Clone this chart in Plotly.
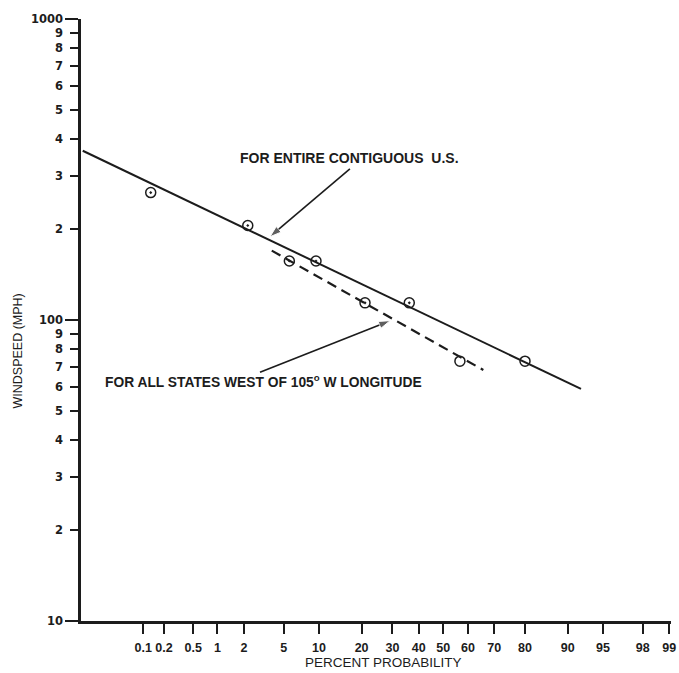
import math
from statistics import NormalDist
import plotly.graph_objects as go

ND = NormalDist()


def z(pct):
    """Normal-probability scale position for a percent probability."""
    return ND.inv_cdf(pct / 100.0)


# ---------------- data ----------------
prob_ticks = [0.1, 0.2, 0.5, 1, 2, 5, 10, 20, 30, 40, 50, 60, 70, 80, 90, 95, 98, 99]
prob_labels = ["0.1", "0.2", "0.5", "1", "2", "5", "10", "20", "30", "40",
               "50", "60", "70", "80", "90", "95", "98", "99"]

speed_ticks = [10, 20, 30, 40, 50, 60, 70, 80, 90,
               100, 200, 300, 400, 500, 600, 700, 800, 900, 1000]
speed_labels = ["10", "2", "3", "4", "5", "6", "7", "8", "9",
                "100", "2", "3", "4", "5", "6", "7", "8", "9", "1000"]
decade_ticks = [10, 100, 1000]

# observed points (percent probability, windspeed mph)
us_pct = [0.129, 2.20, 9.49, 36.3, 80.0]
us_speed = [265, 206, 157, 114, 73]
west_pct = [5.64, 21.0, 56.8]
west_speed = [157, 114, 73]

# fitted lines
us_fit_pct = [0.0102, 92.2]
us_fit_speed = [365, 59.0]
west_fit_pct = [3.86, 66.0]
west_fit_speed = [170, 68.2]

x_range_pct = [0.0095, 99.05]

# annotation pointers: (tail percent, tail mph) -> (head percent, head mph)
us_pointer_pct = [16.8, 3.71]
us_pointer_speed = [317.6, 189.1]
west_pointer_pct = [2.95, 29.2]
west_pointer_speed = [67.0, 99.5]

# ---------------- figure ----------------
INK = "#1c1c1c"
W, H = 679, 673
PLOT_L, PLOT_T, PLOT_R, PLOT_B = 81, 19, 671, 621   # plot area on the page
L, T, R, B = PLOT_L, PLOT_T, W - PLOT_R, H - PLOT_B
PW, PH = PLOT_R - PLOT_L, PLOT_B - PLOT_T


def px(xp):
    return (xp - PLOT_L) / PW


def py(yp):
    return (PLOT_B - yp) / PH


fig = go.Figure()

fig.add_trace(go.Scatter(
    x=[z(p) for p in us_fit_pct], y=us_fit_speed, mode="lines",
    line=dict(color=INK, width=2), hoverinfo="skip", showlegend=False))
fig.add_trace(go.Scatter(
    x=[z(p) for p in west_fit_pct], y=west_fit_speed, mode="lines",
    line=dict(color=INK, width=2.2, dash="10px,6px"), hoverinfo="skip",
    showlegend=False))

fig.add_trace(go.Scatter(
    x=[z(p) for p in us_pct], y=us_speed, mode="markers",
    marker=dict(symbol=["circle-open-dot"] * 4 + ["circle-open"],
                size=10, color=INK, line=dict(color=INK, width=1.5)),
    showlegend=False))
fig.add_trace(go.Scatter(
    x=[z(p) for p in west_pct], y=west_speed, mode="markers",
    marker=dict(symbol=["circle-open-dot"] * 2 + ["circle-open"],
                size=10, color=INK, line=dict(color=INK, width=1.5)),
    showlegend=False))

for pp, ss in [(us_pointer_pct, us_pointer_speed), (west_pointer_pct, west_pointer_speed)]:
    fig.add_trace(go.Scatter(
        x=[z(p) for p in pp], y=ss, mode="lines+markers",
        line=dict(color=INK, width=1.6),
        marker=dict(symbol="arrow", size=[0, 12], angleref="previous", color=INK),
        hoverinfo="skip", showlegend=False))

label_font = dict(family="Liberation Sans, Arial", size=14, color=INK, weight="bold")

fig.update_layout(
    width=W, height=H,
    margin=dict(l=L, r=R, t=T, b=B, pad=0),
    paper_bgcolor="white", plot_bgcolor="white",
    showlegend=False,
    xaxis=dict(
        range=[z(x_range_pct[0]), z(x_range_pct[1])],
        tickmode="array", tickvals=[z(p) for p in prob_ticks], ticktext=prob_labels,
        ticks="outside", ticklen=10, tickwidth=2, tickcolor=INK, tickangle=0,
        showline=True, linewidth=2.5, linecolor=INK, automargin=False,
        showgrid=False, zeroline=False,
        tickfont=dict(family="Liberation Sans, Arial", size=12.5, color=INK, weight="bold"),
        ticklabelstandoff=3,
    ),
    yaxis=dict(
        type="log", range=[1, 3],
        tickmode="array", tickvals=speed_ticks, ticktext=speed_labels,
        ticks="outside", ticklen=8, tickwidth=2, tickcolor=INK, automargin=False,
        minor=dict(tickmode="array", tickvals=decade_ticks, ticks="outside",
                   ticklen=13, tickwidth=2, tickcolor=INK),
        showline=True, linewidth=2.5, linecolor=INK,
        showgrid=False, zeroline=False,
        tickfont=dict(family="DejaVu Sans", size=11.5, color=INK, weight="bold"),
        ticklabelstandoff=5,
    ),
    annotations=[
        dict(xref="paper", yref="paper", x=px(237.7), y=py(158),
             xanchor="left", yanchor="middle", showarrow=False,
             text="FOR ENTIRE CONTIGUOUS  U.S.", font=label_font),
        dict(xref="paper", yref="paper", x=px(103.3), y=py(381),
             xanchor="left", yanchor="middle", showarrow=False,
             text="FOR ALL STATES WEST OF 105<sup>o</sup> W LONGITUDE",
             font=dict(label_font, size=13.8)),
        dict(xref="paper", yref="paper", x=px(383), y=py(663),
             xanchor="center", yanchor="middle", showarrow=False,
             text="PERCENT PROBABILITY",
             font=dict(family="Liberation Sans, Arial", size=13.5, color=INK)),
        dict(xref="paper", yref="paper", x=px(17), y=py(351.5),
             xanchor="center", yanchor="middle", showarrow=False, textangle=-90,
             text="WINDSPEED (MPH)",
             font=dict(family="Liberation Sans, Arial", size=12.5, color=INK)),
    ],
)

fig.write_html(
    "out.html",
    config={"displayModeBar": False},
    post_script="document.body.style.margin='0px';document.body.style.overflow='hidden';",
)
